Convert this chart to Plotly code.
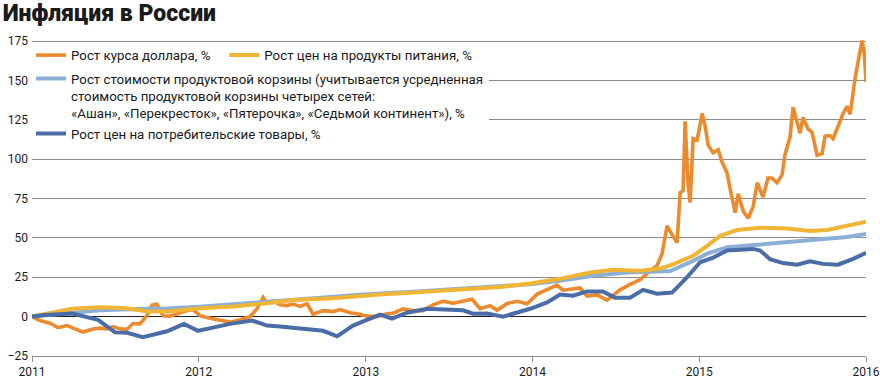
import pandas as pd
import plotly.graph_objects as go

# ---- data (decimal years, % growth since Jan 2011) ----
usd_years = [2011.000, 2011.048, 2011.108, 2011.156, 2011.210, 2011.246, 2011.306, 2011.366, 2011.408, 2011.450,
             2011.486, 2011.528, 2011.570, 2011.606, 2011.647, 2011.689, 2011.719, 2011.749, 2011.785, 2011.827,
             2011.887, 2011.929, 2011.965, 2012.007, 2012.067, 2012.127, 2012.187, 2012.247, 2012.307, 2012.349,
             2012.385, 2012.409, 2012.445, 2012.487, 2012.529, 2012.565, 2012.607, 2012.649, 2012.685, 2012.745,
             2012.805, 2012.847, 2012.906, 2012.966, 2013.008, 2013.068, 2013.128, 2013.164, 2013.224, 2013.284,
             2013.344, 2013.404, 2013.464, 2013.524, 2013.584, 2013.638, 2013.686, 2013.746, 2013.788, 2013.848,
             2013.908, 2013.968, 2014.028, 2014.088, 2014.147, 2014.183, 2014.243, 2014.285, 2014.327, 2014.387,
             2014.447, 2014.483, 2014.525, 2014.585, 2014.645, 2014.705, 2014.747, 2014.777, 2014.807, 2014.843,
             2014.867, 2014.885, 2014.903, 2014.915, 2014.933, 2014.945, 2014.963, 2014.987, 2015.017, 2015.035,
             2015.053, 2015.083, 2015.113, 2015.137, 2015.167, 2015.191, 2015.215, 2015.233, 2015.263, 2015.293,
             2015.323, 2015.347, 2015.382, 2015.412, 2015.436, 2015.466, 2015.496, 2015.514, 2015.544, 2015.562,
             2015.586, 2015.604, 2015.622, 2015.652, 2015.676, 2015.706, 2015.736, 2015.754, 2015.784, 2015.802,
             2015.832, 2015.862, 2015.886, 2015.904, 2015.934, 2015.952, 2015.976, 2015.988, 2016.000]
usd_values = [0, -2.5, -4.2, -7, -5.7, -7.2, -9.8, -7.8, -7.3, -7.8,
              -6.3, -7.8, -8, -4.4, -4.6, 0.6, 7.3, 7.8, 0.6, 0.3,
              2.7, 3.8, 4.5, 0.6, -1, -2.5, -3.5, -2, 0, 5,
              12.2, 8.5, 10, 7.5, 7, 8, 6.5, 8.2, 1.5, 3.8,
              3.2, 4.5, 2.5, 1.5, 0.3, 0, 1.8, 2.2, 4.9, 3.8,
              3.8, 7.5, 9.8, 8.5, 10, 11, 5, 7, 4, 8.4,
              9.7, 8.2, 14.3, 17, 20, 16.8, 17.8, 18.2, 13, 13.8,
              10.5, 13.5, 17, 20.5, 23.5, 29, 32.5, 40, 57.6, 51,
              47, 78.7, 80, 124, 84, 72.4, 113, 112, 129, 121,
              109, 104, 106, 98, 91, 78, 66, 78, 67, 62.5,
              70, 85, 76, 88, 88, 85, 90, 103, 114, 133,
              124, 116.5, 126.5, 119, 117, 102.5, 103.5, 114.6, 115, 113,
              121, 129, 133.5, 128.5, 151.5, 161, 175.3, 168, 149]

food_years = [2011.000, 2011.108, 2011.240, 2011.408, 2011.546, 2011.689, 2011.809, 2012.007, 2012.205, 2012.409,
              2012.565, 2012.805, 2012.966, 2013.086, 2013.308, 2013.506, 2013.686, 2013.806, 2013.986, 2014.165,
              2014.345, 2014.483, 2014.645, 2014.765, 2014.837, 2014.963, 2015.047, 2015.125, 2015.227, 2015.365,
              2015.526, 2015.664, 2015.766, 2015.886, 2016.000]
food_values = [0, 2.5, 5, 6, 5.5, 3.4, 3.2, 5.3, 6.5, 8.5,
               10.6, 11.7, 12.7, 14, 15.5, 16.8, 18.3, 18.8, 21, 24,
               28, 29.7, 29.2, 30.5, 33, 38.6, 45, 51.3, 55, 56.5,
               56, 54.4, 55, 57.6, 60.3]

basket_years = [2011.000, 2011.168, 2011.408, 2011.689, 2011.809, 2012.007, 2012.409, 2012.805, 2013.008, 2013.308,
                2013.506, 2013.806, 2013.986, 2014.165, 2014.363, 2014.567, 2014.825, 2014.963, 2015.047, 2015.167,
                2015.365, 2015.562, 2015.742, 2015.886, 2016.000]
basket_values = [0, 1.8, 4, 5, 5.2, 6.3, 9.5, 12.5, 14.2, 16,
                 17.2, 18.8, 20.5, 22.8, 26, 28, 29, 35.4, 40, 44,
                 45.7, 48, 49.4, 50.6, 52.5]

cpi_years = [2011.000, 2011.078, 2011.240, 2011.396, 2011.498, 2011.570, 2011.665, 2011.809, 2011.911, 2011.995,
             2012.085, 2012.187, 2012.319, 2012.409, 2012.487, 2012.607, 2012.745, 2012.829, 2012.924, 2013.008,
             2013.086, 2013.158, 2013.248, 2013.368, 2013.488, 2013.584, 2013.644, 2013.728, 2013.824, 2013.986,
             2014.088, 2014.165, 2014.243, 2014.327, 2014.423, 2014.495, 2014.585, 2014.663, 2014.747, 2014.837,
             2014.927, 2015.005, 2015.083, 2015.167, 2015.323, 2015.365, 2015.424, 2015.502, 2015.586, 2015.664,
             2015.742, 2015.832, 2015.922, 2016.000]
cpi_values = [0, 1, 2, -2, -10, -10.3, -13, -9.3, -4.6, -9,
              -7, -4.6, -2.5, -5.7, -6.3, -7.6, -9, -12.5, -5.7, -2,
              1.3, -1.2, 2.5, 5, 4.4, 4, 1.9, 2, 0, 5,
              9, 14, 13.3, 16, 16, 12, 12, 17, 14.6, 15.3,
              25, 34.5, 37.5, 42, 43, 42, 36.5, 34, 33, 35.2,
              33.5, 33, 36.7, 40.5]

y_ticks = [-25, 0, 25, 50, 75, 100, 125, 150, 175]
x_tick_years = [2011, 2012, 2013, 2014, 2015, 2016]

names = {
    "usd": "Рост курса доллара, %",
    "food": "Рост цен на продукты питания, %",
    "basket": "Рост стоимости продуктовой корзины (учитывается усредненная<br>"
              "стоимость продуктовой корзины четырех сетей:<br>"
              "«Ашан», «Перекресток», «Пятерочка», «Седьмой континент»), %",
    "cpi": "Рост цен на потребительские товары, %",
}
colors = {"usd": "#EC8A2E", "food": "#F1B535", "basket": "#8BAFD7", "cpi": "#4A6DA7"}

START = pd.Timestamp("2011-01-01")


def to_dates(years):
    return [START + pd.to_timedelta((y - 2011) * 365.25, unit="D") for y in years]


fig = go.Figure()
fig.add_trace(go.Scatter(x=to_dates(usd_years), y=usd_values, mode="lines", name=names["usd"],
                         line=dict(color=colors["usd"], width=3.6), legend="legend"))
fig.add_trace(go.Scatter(x=to_dates(basket_years), y=basket_values, mode="lines", name=names["basket"],
                         line=dict(color=colors["basket"], width=4), legend="legend2", legendrank=3))
fig.add_trace(go.Scatter(x=to_dates(food_years), y=food_values, mode="lines", name=names["food"],
                         line=dict(color=colors["food"], width=4), legend="legend3"))
fig.add_trace(go.Scatter(x=to_dates(cpi_years), y=cpi_values, mode="lines", name=names["cpi"],
                         line=dict(color=colors["cpi"], width=4), legend="legend2", legendrank=4))

tick_dates = [pd.Timestamp(f"{y}-01-01") for y in x_tick_years]
legend_font = dict(size=13.3, color="#1a1a1a")

fig.update_layout(
    width=880, height=380,
    margin=dict(l=32, r=14, t=39, b=24, autoexpand=False),
    paper_bgcolor="white", plot_bgcolor="white",
    font=dict(family="Roboto, 'Noto Sans', sans-serif", size=12, color="#222"),
    title=dict(text="Инфляция в России", x=0.003, xanchor="left", xref="container",
               y=0.966, yanchor="middle", yref="container",
               font=dict(family="'Roboto Black', Roboto, sans-serif", size=23, color="#1a1a1a", weight=900)),
    showlegend=True,
    legend=dict(x=-0.0012, xanchor="left", y=0.997, yanchor="top",
                bgcolor="rgba(255,255,255,0)", font=legend_font),
    legend3=dict(x=0.2306, xanchor="left", y=0.997, yanchor="top",
                 bgcolor="rgba(255,255,255,0)", font=legend_font),
    legend2=dict(orientation="v", x=-0.0012, xanchor="left", y=0.923, yanchor="top",
                 bgcolor="white", font=legend_font, valign="top",
                 traceorder="normal", tracegroupgap=0),
    xaxis=dict(type="date", range=[tick_dates[0], tick_dates[-1]],
               tickvals=tick_dates, ticktext=[str(y) for y in x_tick_years],
               showgrid=False, zeroline=False, showline=True, linecolor="#8c8c8c", linewidth=1,
               ticks="outside", ticklen=5, tickcolor="#8c8c8c", tickfont=dict(size=12, color="#1a1a1a")),
    yaxis=dict(range=[-25, 176.3], tickvals=y_ticks, showgrid=True, gridcolor="#8c8c8c", gridwidth=1,
               zeroline=True, zerolinecolor="#222", zerolinewidth=1.2, showline=False, ticks="",
               ticklabelstandoff=3, tickfont=dict(size=12, color="#1a1a1a")),
)

fig.write_html("out.html", config={"displayModeBar": False},
               post_script="document.body.style.margin='0';")
